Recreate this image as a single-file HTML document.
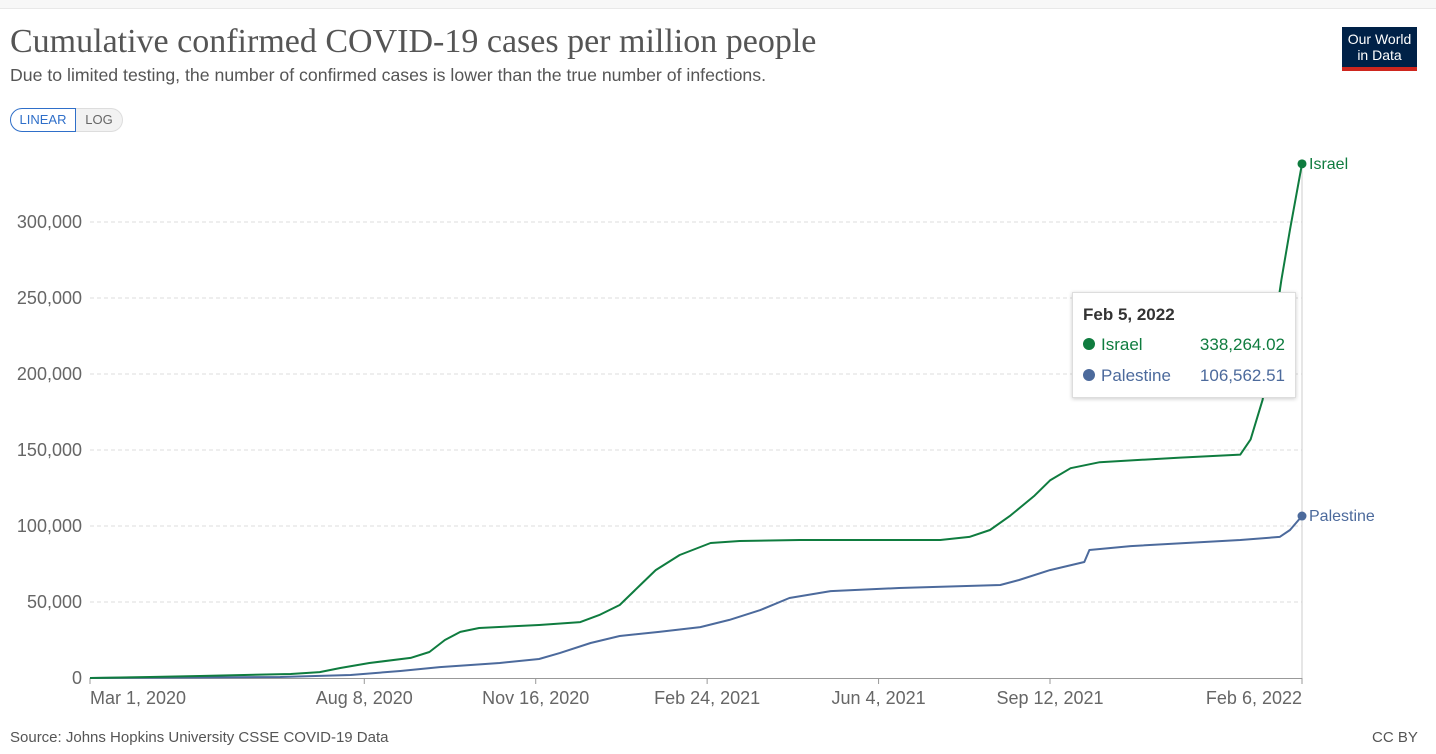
<!DOCTYPE html>
<html><head><meta charset="utf-8"><style>
body{margin:0;background:#fff;font-family:"Liberation Sans",sans-serif;}
#w{position:relative;width:1436px;height:754px;overflow:hidden;}
.t{position:absolute;white-space:nowrap}
</style></head><body><div id="w">
<div style="position:absolute;left:0;top:0;width:1436px;height:8px;background:#f7f7f7;border-bottom:1px solid #e8e8e8"></div>
<div class="t" style="left:10px;top:23px;font-family:'Liberation Serif',serif;font-size:34px;color:#555">Cumulative confirmed COVID-19 cases per million people</div>
<div class="t" style="left:10px;top:65px;font-size:17.7px;color:#555">Due to limited testing, the number of confirmed cases is lower than the true number of infections.</div>
<div class="t" style="left:10px;top:108px;width:64px;height:22px;border:1px solid #2f6fc9;border-radius:12px 0 0 12px;color:#2f6fc9;font-size:13px;line-height:22px;text-align:center">LINEAR</div>
<div class="t" style="left:76px;top:108px;width:46px;height:22px;border:1px solid #ddd;border-left:none;border-radius:0 12px 12px 0;background:#f2f2f2;color:#666;font-size:13px;line-height:22px;text-align:center">LOG</div>
<div class="t" style="left:1342px;top:27px;width:75px;height:44px;background:#002147;color:#fff;font-size:14px;line-height:16px;text-align:center;padding-top:4px;box-sizing:border-box;border-bottom:4px solid #ce261e">Our World<br>in Data</div>
<svg id="c" width="1436" height="754" style="position:absolute;left:0;top:0"></svg>
<div class="t" style="left:10px;top:729px;font-size:15px;color:#555">Source: Johns Hopkins University CSSE COVID-19 Data</div>
<div class="t" style="left:1372px;top:729px;font-size:15px;color:#555">CC BY</div>
<div class="t" style="left:1072px;top:292px;width:222px;height:104px;background:#fff;border:1px solid #ddd;box-shadow:0 1px 4px rgba(0,0,0,.2);font-size:17px">
<div class="t" style="left:10px;top:12px;color:#333;font-weight:bold">Feb 5, 2022</div>
<div class="t" style="left:10px;top:42px;color:#0f7c3f"><span style="display:inline-block;width:12px;height:12px;border-radius:6px;background:#0f7c3f;margin-right:6px"></span>Israel</div>
<div class="t" style="right:10px;top:42px;color:#0f7c3f">338,264.02</div>
<div class="t" style="left:10px;top:73px;color:#4c6a9c"><span style="display:inline-block;width:12px;height:12px;border-radius:6px;background:#4c6a9c;margin-right:6px"></span>Palestine</div>
<div class="t" style="right:10px;top:73px;color:#4c6a9c">106,562.51</div>
</div>
</div>
<script>
const yTicks=[0,50000,100000,150000,200000,250000,300000];
const xTickDays=[0,160,260,360,460,560,707];
const xTickLabels=["Mar 1, 2020","Aug 8, 2020","Nov 16, 2020","Feb 24, 2021","Jun 4, 2021","Sep 12, 2021","Feb 6, 2022"];
const israelDays=[0,35,64,117,134,146,163,187,198,207,216,227,262,286,297,309,321,330,344,362,379,414,496,513,525,537,551,560,572,589,636,671,677,684,689,695,700,707];
const israelVals=[0,660,1300,2600,3900,6600,9900,13200,17100,25000,30300,32900,34900,36800,41400,48000,61200,71000,80900,88800,90100,90800,90800,92800,97400,107000,120000,130000,138000,142000,145000,147000,157000,183000,216000,262000,295000,338264];
const palDays=[0,111,152,181,204,239,262,274,292,309,332,356,373,391,408,432,472,531,542,560,580,583,607,671,694,700,707];
const palVals=[0,660,2000,4600,7200,9900,12500,16400,23000,27600,30300,33500,38200,44700,52600,57200,59200,61200,64500,71000,76300,84200,86800,90800,92800,97400,106562];
const svg=document.getElementById('c'),NS='http://www.w3.org/2000/svg';
const X=d=>90+d*1212/707, Y=v=>678-v*456/300000;
function mk(t,a,txt){const e=document.createElementNS(NS,t);for(const k in a)e.setAttribute(k,a[k]);if(txt!=null)e.textContent=txt;svg.appendChild(e);return e;}
yTicks.forEach(v=>{
 if(v>0){const g=mk('line',{x1:90,x2:1302,y1:Y(v),y2:Y(v),stroke:'#ddd','stroke-dasharray':'4,3'});
 
 }
 const t=mk('text',{x:82,y:Y(v)+6,'text-anchor':'end','font-size':18,fill:'#666','font-family':'Liberation Sans'},v.toLocaleString('en-US'));
 
 
});
const ax=mk('line',{x1:90,x2:1302,y1:678.5,y2:678.5,stroke:'#999'});


const hv=mk('line',{x1:X(707),x2:X(707),y1:160,y2:678,stroke:'#ccc'});


xTickDays.forEach((d,i)=>{
 const tk=mk('line',{x1:X(d),x2:X(d),y1:678,y2:684,stroke:'#999'});
 
 
 const anchor=i==0?'start':(i==xTickDays.length-1?'end':'middle');
 const t=mk('text',{x:X(d),y:704,'text-anchor':anchor,'font-size':18,fill:'#666','font-family':'Liberation Sans'},xTickLabels[i]);
 
 
});
function series(days,vals,col,name){
 const p=mk('path',{d:days.map((d,i)=>(i?'L':'M')+X(d).toFixed(1)+','+Y(vals[i]).toFixed(1)).join(''),fill:'none',stroke:col,'stroke-width':2,'stroke-linejoin':'round'});
 
 
 const n=days.length-1;
 const c=mk('circle',{cx:X(days[n]),cy:Y(vals[n]),r:4.5,fill:col});
 
 
 const l=mk('text',{x:X(days[n])+7,y:Y(vals[n])+5,'font-size':16,fill:col,'font-family':'Liberation Sans'},name=='israel'?'Israel':'Palestine');
 
 
}
series(palDays,palVals,'#4c6a9c','palestine');
series(israelDays,israelVals,'#0f7c3f','israel');
</script></body></html>
